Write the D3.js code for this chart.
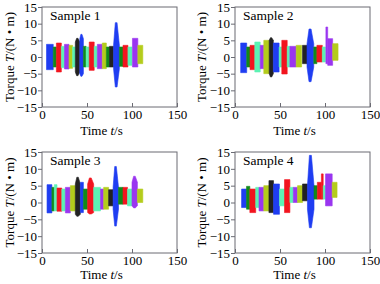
<!DOCTYPE html>
<html>
<head>
<meta charset="utf-8">
<script src="https://cdn.jsdelivr.net/npm/d3@7"></script>
<style>
  html, body { margin: 0; padding: 0; background: #fff; }
  svg { display: block; font-family: "Liberation Serif", "Times New Roman", serif; }
</style>
</head>
<body>
<div id="chart"></div>
<script>
// colours of the test segments (blue, green, red, mint, purple, yellow-green, black)
const segColors = {B: "#1f3df2", G: "#118a1a", R: "#f2141e", M: "#5cf2b4", P: "#9a35f0", Y: "#b4cc1c", K: "#222222"};

const xTicks = [0, 50, 100, 150];
const yTicks = [-15, -10, -5, 0, 5, 10, 15];
const sampleNames = ["Sample 1", "Sample 2", "Sample 3", "Sample 4"];

// each segment: [t start, t end, colour, upper, lower, peak upper, peak lower]
const sample1 = [
  [5, 12.5, "B", 3.8, -3.8], [12.5, 16, "G", 3, -3], [16, 21.5, "R", 4.2, -4.5],
  [21.5, 25, "M", 3.2, -3.2], [25, 30, "P", 3.8, -3.6], [30, 34, "Y", 3.5, -3.4],
  [34, 37, "M", 3, -3], [37, 42, "K", 4.5, -4.5, 5.6, -5.6], [42, 46, "B", 5.5, -5, 6.8, -5.8],
  [46, 49, "G", 3.2, -3], [49, 52.5, "M", 3, -3], [52.5, 58, "R", 4.5, -4],
  [58, 61.5, "M", 3.2, -3], [61.5, 67, "P", 3.8, -3.5], [67, 71.5, "Y", 4.2, -3.5],
  [71.5, 75, "G", 3, -3], [75, 79.5, "K", 3.2, -3], [79.5, 86, "B", 3.5, -3.5, 10.3, -9],
  [86, 90, "G", 3, -2.8], [90, 95.5, "R", 3.5, -3], [95.5, 100, "M", 3, -2.5],
  [100.5, 106.5, "P", 5.6, -3], [106.5, 112, "Y", 3.5, -2]
];
const sample2 = [
  [6.3, 13, "B", 4.2, -4.7], [13, 16.7, "G", 3, -3], [16.7, 22, "R", 3.5, -3.8],
  [22, 28, "M", 4.5, -4.5], [28, 32, "P", 3.5, -3.5], [32, 38, "Y", 5, -5],
  [38, 42.6, "K", 5, -5, 5.8, -6], [42.6, 49, "B", 4.2, -4.5], [49, 52, "M", 3, -3],
  [52, 58, "R", 5, -5.1], [58, 61, "M", 3.2, -3], [61, 68, "P", 3.2, -3],
  [68, 74, "Y", 3.5, -3], [75, 80, "K", 3.5, -2], [80, 87.5, "B", 4, -3, 8.4, -7.4],
  [87.5, 91, "G", 3, -2], [91, 97, "R", 3.5, -1.5], [97, 100.5, "M", 3, -1.5],
  [101, 103, "P", 9, -2], [103, 108.5, "P", 5.5, -2.5], [108.5, 114.5, "Y", 4, -1]
];
const sample3 = [
  [5.6, 11, "B", 5.3, -3.1], [11, 13.7, "G", 4.5, -2.5], [13.7, 16.7, "M", 5.3, -2.5],
  [16.7, 22, "R", 4.3, -2.6], [22, 26, "M", 4, -2.5], [26, 31.5, "P", 4.5, -3.1],
  [31.5, 37, "Y", 5, -2.5], [37, 42.6, "K", 5.5, -3.5, 7.5, -4.1], [42.6, 46, "B", 6, -3],
  [46, 50.7, "G", 4, -2], [50.7, 57.4, "R", 5.5, -3, 7.3, -3.4], [57.4, 65, "M", 4.5, -2.5],
  [65, 68.5, "P", 4, -2], [68.5, 74, "Y", 4.5, -2], [74, 79, "K", 3.8, -1],
  [79, 85, "B", 4.5, -2, 10.7, -7], [85, 90, "G", 4.5, -0.5], [90, 95, "R", 4.5, -0.5],
  [95, 100, "M", 4, -1], [100, 106, "P", 6, -1, 7.8, -1.6], [106, 112, "Y", 4, 0]
];
const sample4 = [
  [7.3, 12.8, "B", 4, -1.5], [12.8, 16.5, "G", 4.8, -2], [16.5, 23, "R", 4, -3],
  [23, 26.7, "M", 4.5, -1.5], [26.7, 32, "P", 4.5, -2.5], [32, 37.7, "Y", 5, -2.5],
  [37.7, 42.8, "K", 6.5, -3], [42.8, 49.4, "B", 5.5, -3.5], [49.4, 55, "M", 4, -1],
  [55, 61, "R", 6.8, -3], [61, 64.8, "M", 4.5, 0], [64.8, 69.5, "P", 4.5, 0],
  [69.5, 75, "Y", 5, 0], [75, 80.5, "K", 5.5, 0.5], [80.5, 87.8, "B", 5, -2, 14, -7.5],
  [87.8, 91.5, "G", 5, 1], [91.5, 96, "R", 6, 1], [96, 98, "R", 8.5, 1],
  [98, 100.6, "M", 5, 1], [100.6, 108, "P", 8.5, -1], [108, 113.4, "Y", 6, 1.5]
];
const samples = [sample1, sample2, sample3, sample4];

// plot boxes of the four panels
const panels = [
  {x0: 42, x1: 177, y0: 7, y1: 107, titleX: 14, xTitleY: 135},
  {x0: 235, x1: 370, y0: 7, y1: 107, titleX: 206, xTitleY: 135},
  {x0: 42, x1: 177, y0: 152, y1: 253, titleX: 14, xTitleY: 279},
  {x0: 235, x1: 370, y0: 152, y1: 253, titleX: 206, xTitleY: 279}
];

const svg = d3.select("#chart").append("svg")
  .attr("width", 380).attr("height", 284);

const fmt = d => d < 0 ? "\u2212" + Math.abs(d) : String(d);

panels.forEach((p, i) => {
  const x = d3.scaleLinear().domain([0, 150]).range([p.x0, p.x1]);
  const y = d3.scaleLinear().domain([-15, 15]).range([p.y1, p.y0]);
  const g = svg.append("g");

  // signal segments; peaked ones get a flat-topped spindle
  const area = d3.area()
    .x(d => x(d[0]))
    .y0(d => y(d[1]))
    .y1(d => y(d[2]));
  samples[i].forEach(s => {
    const w = s[1] - s[0];
    const pts = [[s[0], s[4], s[3]]];
    if (s.length > 5) {
      pts.push([s[0] + w * 0.3, s[6], s[5]]);
      pts.push([s[0] + w * 0.6, s[6], s[5]]);
    }
    pts.push([s[1], s[4], s[3]]);
    g.append("path")
      .attr("d", area(pts))
      .attr("fill", segColors[s[2]])
      .attr("stroke", segColors[s[2]])
      .attr("stroke-width", 0.6)
      .attr("stroke-linejoin", "round");
  });

  // frame
  g.append("rect")
    .attr("x", p.x0).attr("y", p.y0)
    .attr("width", p.x1 - p.x0).attr("height", p.y1 - p.y0)
    .attr("fill", "none").attr("stroke", "#6b6b73").attr("stroke-width", 1);

  // y axis (ticks outside)
  const yAxis = g.append("g")
    .attr("transform", `translate(${p.x0},0)`)
    .call(d3.axisLeft(y).tickValues(yTicks).tickFormat(fmt).tickSizeInner(4).tickSizeOuter(0).tickPadding(1));
  // x axis (ticks inside)
  const xAxis = g.append("g")
    .attr("transform", `translate(0,${p.y1})`)
    .call(d3.axisBottom(x).tickValues(xTicks).tickSizeInner(-4).tickSizeOuter(0).tickPadding(3));
  [yAxis, xAxis].forEach(a => {
    a.select(".domain").remove();
    a.selectAll("line").attr("stroke", "#6b6b73");
    a.selectAll("text").attr("fill", "#000")
      .style("font-family", "Liberation Serif, serif").style("font-size", "13px");
  });
  xAxis.selectAll("text").attr("dy", "0.68em");

  // sample label
  g.append("text")
    .attr("x", p.x0 + 8).attr("y", p.y0 + 13)
    .attr("font-size", 13.5).attr("fill", "#000")
    .text(sampleNames[i]);

  // y title
  const yt = g.append("text")
    .attr("transform", `translate(${p.titleX},${(p.y0 + p.y1) / 2}) rotate(-90)`)
    .attr("text-anchor", "middle").attr("font-size", 13).attr("fill", "#000");
  yt.append("tspan").text("Torque ");
  yt.append("tspan").attr("font-style", "italic").text("T");
  yt.append("tspan").text("/(N \u2022 m)");

  // x title
  const xt = g.append("text")
    .attr("x", (p.x0 + p.x1) / 2 - 8).attr("y", p.xTitleY)
    .attr("text-anchor", "middle").attr("font-size", 13).attr("fill", "#000");
  xt.append("tspan").text("Time ");
  xt.append("tspan").attr("font-style", "italic").text("t");
  xt.append("tspan").text("/s");
});
</script>
</body>
</html>
